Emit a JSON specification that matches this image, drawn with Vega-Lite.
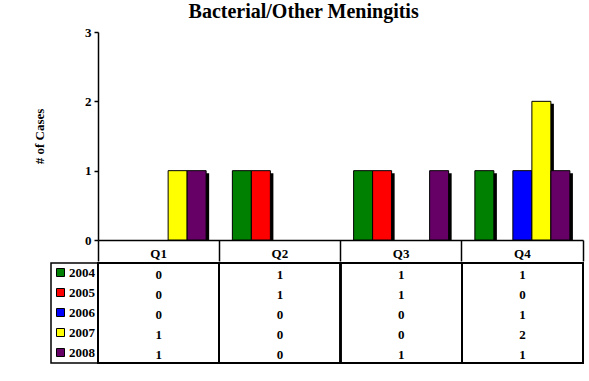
{
  "$schema": "https://vega.github.io/schema/vega-lite/v6.json",
  "background": "white",
  "padding": {"left": 33, "top": 2, "right": 4, "bottom": 4},
  "title": {"text": "Bacterial/Other Meningitis", "font": "Liberation Serif", "fontSize": 20, "fontWeight": "bold", "color": "black", "anchor": "middle", "offset": 4, "dx": -5},
  "data": {"values": [
    {"quarter": "Q1", "year": "2004", "value": 0},
    {"quarter": "Q2", "year": "2004", "value": 1},
    {"quarter": "Q3", "year": "2004", "value": 1},
    {"quarter": "Q4", "year": "2004", "value": 1},
    {"quarter": "Q1", "year": "2005", "value": 0},
    {"quarter": "Q2", "year": "2005", "value": 1},
    {"quarter": "Q3", "year": "2005", "value": 1},
    {"quarter": "Q4", "year": "2005", "value": 0},
    {"quarter": "Q1", "year": "2006", "value": 0},
    {"quarter": "Q2", "year": "2006", "value": 0},
    {"quarter": "Q3", "year": "2006", "value": 0},
    {"quarter": "Q4", "year": "2006", "value": 1},
    {"quarter": "Q1", "year": "2007", "value": 1},
    {"quarter": "Q2", "year": "2007", "value": 0},
    {"quarter": "Q3", "year": "2007", "value": 0},
    {"quarter": "Q4", "year": "2007", "value": 2},
    {"quarter": "Q1", "year": "2008", "value": 1},
    {"quarter": "Q2", "year": "2008", "value": 0},
    {"quarter": "Q3", "year": "2008", "value": 1},
    {"quarter": "Q4", "year": "2008", "value": 1}
  ]},
  "spacing": 0,
  "resolve": {"legend": {"color": "independent"}},
  "vconcat": [
    {
      "width": 485,
      "height": 208,
      "transform": [{"filter": "datum.value > 0"}],
      "encoding": {
        "x": {"field": "quarter", "type": "nominal",
          "scale": {"domain": ["Q1", "Q2", "Q3", "Q4"], "paddingInner": 0, "paddingOuter": 0},
          "axis": {"title": null, "labelAngle": 0, "bandPosition": 1, "tickExtra": true, "tickSize": 21, "labelPadding": -14, "labelBaseline": "top"}},
        "y": {"field": "value", "type": "quantitative",
          "scale": {"domain": [0, 3], "nice": false},
          "axis": {"values": [0, 1, 2, 3], "tickSize": 4, "labelPadding": 3, "title": "# of Cases", "titlePadding": 38}}
      },
      "resolve": {"scale": {"xOffset": "independent"}},
      "layer": [
        {"mark": {"type": "bar", "color": "black", "yOffset": 2.5, "clip": true},
          "encoding": {"xOffset": {"field": "year", "type": "nominal",
            "scale": {"domain": ["2004", "2005", "2006", "2007", "2008"], "paddingInner": 0, "paddingOuter": 0.69, "align": 0.615}}}},
        {"mark": {"type": "bar", "stroke": "black", "strokeWidth": 1, "opacity": 1},
          "encoding": {
            "xOffset": {"field": "year", "type": "nominal",
              "scale": {"domain": ["2004", "2005", "2006", "2007", "2008"], "paddingInner": 0, "paddingOuter": 0.69}},
            "color": {"field": "year", "type": "nominal",
              "scale": {"domain": ["2004", "2005", "2006", "2007", "2008"], "range": ["#008000", "#FF0000", "#0000FF", "#FFFF00", "#660066"]},
              "legend": null}}}
      ]
    },
    {
      "width": 485,
      "height": 100,
      "encoding": {
        "x": {"field": "quarter", "type": "nominal",
          "scale": {"domain": ["Q1", "Q2", "Q3", "Q4"], "paddingInner": 0, "paddingOuter": 0},
          "axis": null}
      },
      "layer": [
        {"mark": {"type": "rect", "fill": "white", "fillOpacity": 0, "stroke": "black", "strokeWidth": 1.5}},
        {"mark": {"type": "point", "shape": "square", "filled": true, "opacity": 0},
          "encoding": {
            "y": {"field": "year", "type": "nominal",
              "scale": {"domain": ["2004", "2005", "2006", "2007", "2008"], "paddingInner": 0, "paddingOuter": 0},
              "axis": null},
            "color": {"field": "year", "type": "nominal",
            "scale": {"domain": ["2004", "2005", "2006", "2007", "2008"], "range": ["#008000", "#FF0000", "#0000FF", "#FFFF00", "#660066"]},
            "legend": {"title": null, "orient": "left", "offset": 0, "padding": 3, "strokeColor": "black",
              "symbolType": "square", "symbolSize": 64, "symbolOpacity": 1, "symbolStrokeColor": "black", "symbolStrokeWidth": 1,
              "labelFont": "Liberation Serif", "labelFontWeight": "bold", "labelFontSize": 13, "labelColor": "black",
              "labelOffset": 2, "rowPadding": 6}}}},
        {"mark": {"type": "text", "font": "Liberation Serif", "fontWeight": "bold", "fontSize": 13, "color": "black", "dy": 1.5},
          "encoding": {
            "y": {"field": "year", "type": "nominal",
              "scale": {"domain": ["2004", "2005", "2006", "2007", "2008"], "paddingInner": 0, "paddingOuter": 0},
              "axis": null},
            "text": {"field": "value", "type": "quantitative"}}}
      ]
    }
  ],
  "config": {
    "font": "Liberation Serif",
    "view": {"stroke": null},
    "legend": {"strokeWidth": 1.5},
    "axis": {"labelFont": "Liberation Serif", "labelFontWeight": "bold", "labelFontSize": 13, "labelColor": "black",
      "titleFont": "Liberation Serif", "titleFontWeight": "bold", "titleFontSize": 13, "titleColor": "black",
      "domainColor": "black", "tickColor": "black", "domainWidth": 1.5, "tickWidth": 1.5, "grid": false}
  }
}
